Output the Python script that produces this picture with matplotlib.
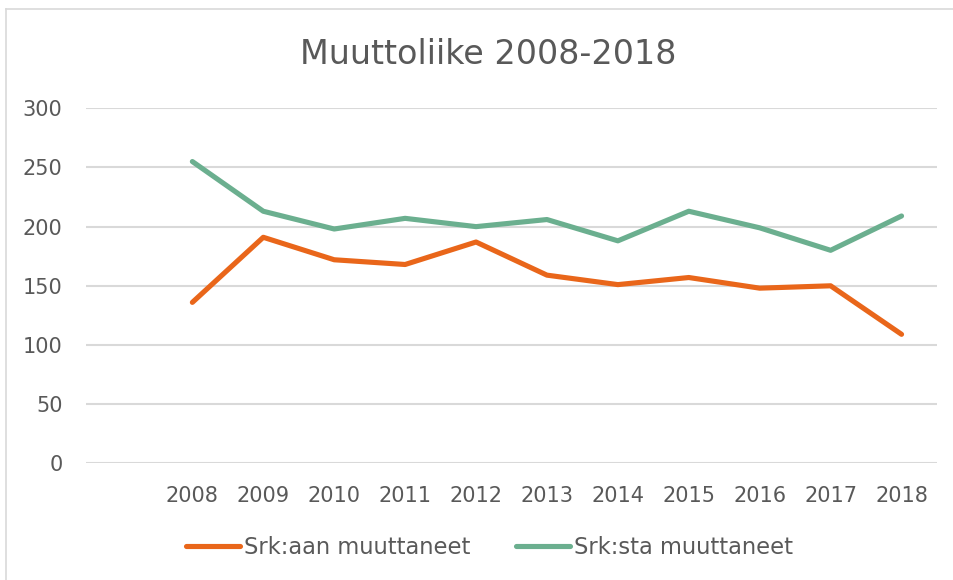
import matplotlib
matplotlib.use("Agg")
import matplotlib.pyplot as plt
from matplotlib.lines import Line2D

years = ['2008', '2009', '2010', '2011', '2012', '2013', '2014', '2015', '2016', '2017', '2018']
srk_aan = [136, 191, 172, 168, 187, 159, 151, 157, 148, 150, 109]
srk_sta = [255, 213, 198, 207, 200, 206, 188, 213, 199, 180, 209]
y_ticks = [0, 50, 100, 150, 200, 250, 300]

orange = '#E9661A'
green = '#6BAF8F'
text_col = '#595959'
grid_col = '#D9D9D9'

plt.rcParams['font.family'] = ['DejaVu Sans']

fig = plt.figure(figsize=(9.54, 5.80), dpi=100)
ax = fig.add_axes([86 / 954, 1 - 463.3 / 580, (937 - 86) / 954, (463.3 - 108.3) / 580])

x = list(range(len(years)))
ax.plot(x, srk_aan, color=orange, lw=3.7, solid_capstyle='round', solid_joinstyle='round', zorder=3)
ax.plot(x, srk_sta, color=green, lw=3.7, solid_capstyle='round', solid_joinstyle='round', zorder=3)

# tyhjä kategoria ennen vuotta 2008
ax.set_xlim(-1.5, len(years) - 0.5)
ax.set_ylim(0, 300)
ax.set_xticks(x)
ax.set_xticklabels(years)
ax.set_yticks(y_ticks)
ax.yaxis.grid(True, color=grid_col, lw=1.5)
ax.set_axisbelow(True)
for s in ax.spines.values():
    s.set_visible(False)
ax.tick_params(axis='both', length=0, labelsize=15, labelcolor=text_col)
ax.tick_params(axis='y', pad=17)
ax.tick_params(axis='x', pad=16)

fig.text(0.512, 1 - 55 / 580, 'Muuttoliike 2008-2018', ha='center', va='center',
         fontsize=24, color=text_col)

# legenda
handles = [Line2D([], [], color=orange, lw=3.7, solid_capstyle='round'),
           Line2D([], [], color=green, lw=3.7, solid_capstyle='round')]
fig.legend(handles, ['Srk:aan muuttaneet', 'Srk:sta muuttaneet'], loc='center',
           bbox_to_anchor=(0.513, 1 - 547 / 580), ncol=2, frameon=False,
           fontsize=16.3, labelcolor=text_col, handlelength=2.4, handletextpad=0.18,
           columnspacing=2.0)

# kehys (vasen ja ylä)
fig.add_artist(Line2D([6 / 954, 6 / 954], [0, 1 - 9 / 580], transform=fig.transFigure,
                      color=grid_col, lw=1.2))
fig.add_artist(Line2D([6 / 954, 1], [1 - 9 / 580, 1 - 9 / 580], transform=fig.transFigure,
                      color=grid_col, lw=1.2))

fig.savefig('out.png', dpi=100)
